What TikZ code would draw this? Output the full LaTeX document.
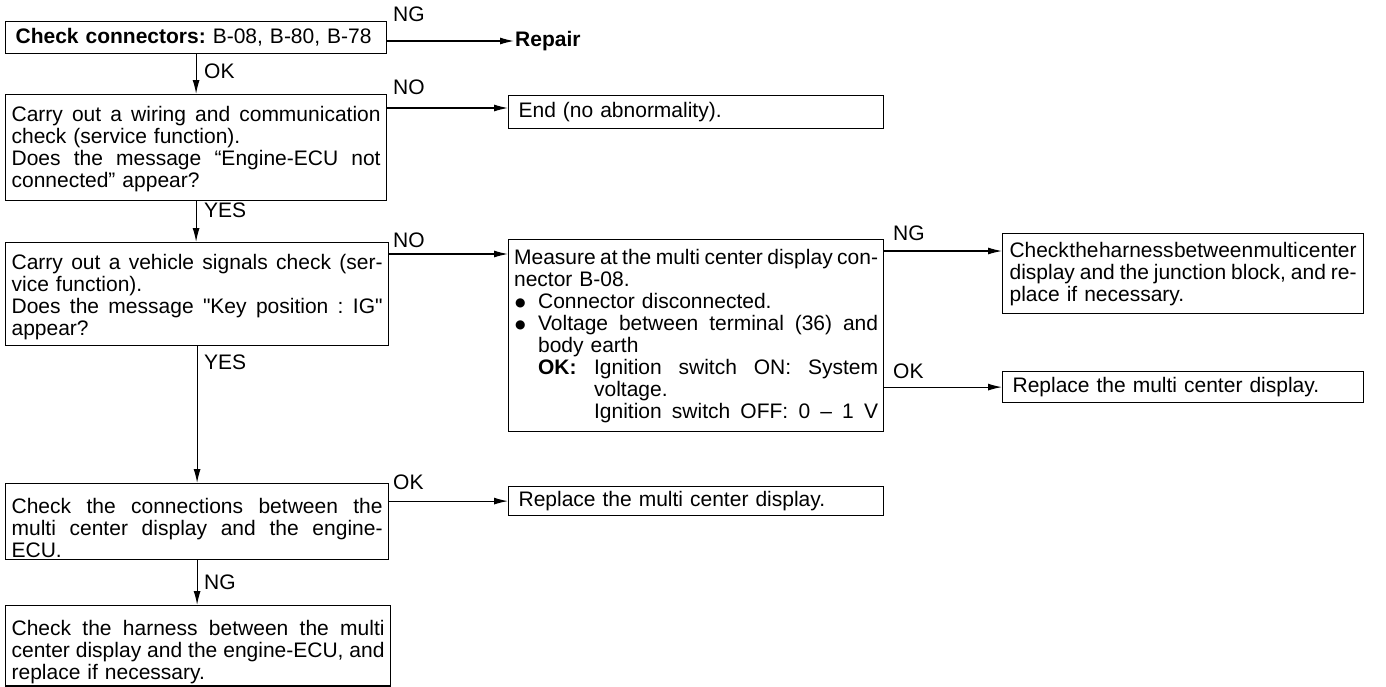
\documentclass[tikz,border=0pt]{standalone}
\usepackage{fontspec}
\setmainfont{Liberation Sans}
\newfontfamily\nqfont{Liberation Sans}
\newfontfamily\dvfont{DejaVu Sans}
\usepackage{graphicx}
\usetikzlibrary{arrows.meta,calc}
\frenchspacing
\newlength\minw
\newcommand\flw[2]{\leavevmode\begingroup
  \settowidth\minw{\spaceskip=0.028em\relax #2}%
  \ifdim\minw>#1\relax
    \resizebox{#1}{\height}{\spaceskip=0.028em\relax #2}%
  \else
    \spaceskip=0.278em plus 1fil minus 0.25em\relax
    \hbox to #1{#2}%
  \fi\endgroup}
\newcommand\FL[1]{\flw{\hsize}{#1}}
\newcommand\TS[1]{\rule{0pt}{#1}}
\newcommand\SQ{{\nqfont"}}
\newcommand\BUL{\makebox[24pt][l]{\hspace{1pt}\raisebox{1.5pt}{\dvfont\fontsize{12}{12}\selectfont ●}}}
\begin{document}
\begin{tikzpicture}[x=1pt,y=-1pt,
  font=\fontsize{21}{22}\selectfont,
  box/.style={draw,line width=1.2pt,anchor=north west,align=left,inner ysep=2pt,inner xsep=6pt},
  arr/.style={line width=1.1pt,-{Latex[length=14pt,width=7pt]}},
  lbl/.style={inner sep=0pt,anchor=west}]
\useasboundingbox (0,0) rectangle (1386,686);

% left column
\node[box,text width=361pt,inner xsep=10pt,minimum height=32pt] (b1) at (5,21)
  {\textbf{Check connectors:} B-08, B-80, B-78};
\node[box,text width=369pt,minimum height=106pt] (b2) at (5,94)
  {\TS{19pt}\FL{Carry out a wiring and communication}\\
   check (service function).\\
   \FL{Does the message “Engine-ECU not}\\
   connected” appear?};
\node[box,text width=371pt,minimum height=103pt] (b3) at (5,242)
  {\TS{21pt}\FL{Carry out a vehicle signals check (ser-}\\
   vice function).\\
   \FL{Does the message \SQ Key position : IG\SQ}\\
   appear?};
\node[box,text width=371pt,minimum height=69pt] (b4) at (5,483)
  {\TS{28pt}\FL{Check the connections between the}\\
   \FL{multi center display and the engine-}\\
   ECU.};
\node[box,text width=373pt,minimum height=74pt] (b5) at (5,605)
  {\TS{28pt}\FL{Check the harness between the multi}\\
   \FL{center display and the engine-ECU, and}\\
   replace if necessary.};

% middle column
\node[anchor=west,inner sep=1pt,font=\fontsize{21}{22}\selectfont\bfseries] (rep) at (514,41) {Repair};
\node[box,text width=355pt,inner xsep=10pt,minimum height=33pt] (endb) at (508,95)
  {End (no abnormality).};
\node[box,text width=364pt,inner xsep=5.5pt,minimum height=192pt] (meas) at (508,239)
  {\FL{Measure at the multi center display con-}\\
   nector B-08.\\
   \BUL Connector disconnected.\\
   \BUL\flw{\dimexpr\hsize-24pt\relax}{Voltage between terminal (36) and}\\
   \hspace*{24pt}body earth\\
   \hspace*{24pt}\makebox[56pt][l]{\bfseries OK:}\flw{\dimexpr\hsize-80pt\relax}{Ignition switch ON: System}\\
   \hspace*{80pt}voltage.\\
   \hspace*{80pt}\flw{\dimexpr\hsize-80pt\relax}{Ignition switch OFF: 0 – 1 V}};
\node[box,text width=355pt,inner xsep=10pt,minimum height=29pt] (rep2) at (508,486)
  {Replace the multi center display.};

% right column
\node[box,text width=347pt,inner xsep=7pt,minimum height=80pt] (rb1) at (1002,233)
  {\FL{Check the harness between multi center}\\
   \FL{display and the junction block, and re-}\\
   place if necessary.};
\node[box,text width=341pt,inner xsep=10pt,minimum height=31pt] (rep1) at (1002,371)
  {Replace the multi center display.};

% connectors
\coordinate (c2) at ([yshift=-14pt]b2.north east);
\coordinate (c3) at ([yshift=-12pt]b3.north east);
\coordinate (cm) at ([yshift=-12pt]meas.north east);
\draw[arr] (b1.east |- rep.west) -- (rep.west);
\draw[arr] (b1.south) -- (b1.south |- b2.north);
\draw[arr] (c2) -- (c2 -| endb.west);
\draw[arr] (b2.south) -- (b2.south |- b3.north);
\draw[arr] (c3) -- (c3 -| meas.west);
\draw[arr] (cm) -- (cm -| rb1.west);
\draw[arr] (meas.east |- rep1.west) -- (rep1.west);
\draw[arr] (b3.south) -- (b3.south |- b4.north);
\draw[arr] (b4.east |- rep2.west) -- (rep2.west);
\draw[arr] (b4.south) -- (b4.south |- b5.north);

% labels
\node[lbl] (lng1) at (393,14) {NG};
\node[lbl] (lok1) at (204,71) {OK};
\node[lbl] (lno1) at (393,87) {NO};
\node[lbl] (lyes1) at (204,210) {YES};
\node[lbl] (lno2) at (393,240) {NO};
\node[lbl] (lngm) at (893,233) {NG};
\node[lbl] (lyes2) at (204,362) {YES};
\node[lbl] (lokm) at (893,371) {OK};
\node[lbl] (lok4) at (393,482) {OK};
\node[lbl] (lng4) at (204,582) {NG};
\end{tikzpicture}
\end{document}
